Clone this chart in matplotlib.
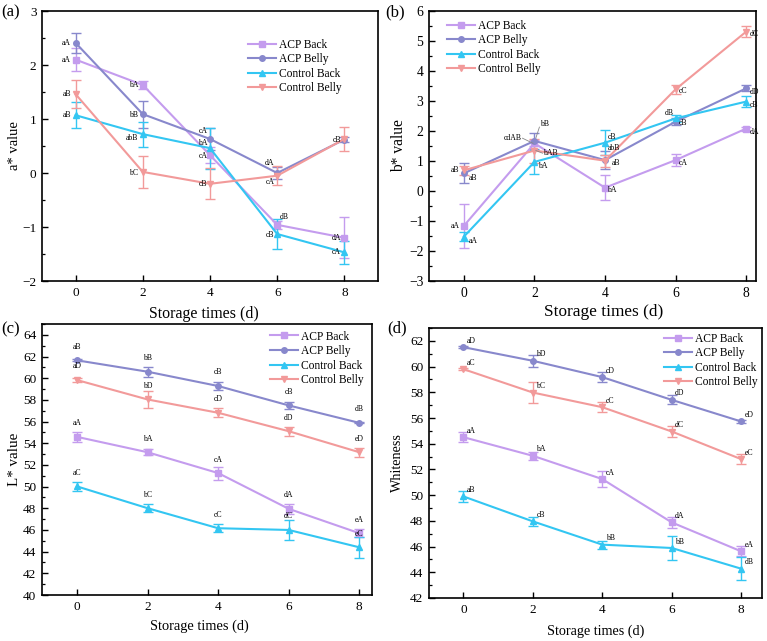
import matplotlib
matplotlib.use('Agg')
import matplotlib.pyplot as plt
from matplotlib.ticker import MultipleLocator

plt.rcParams['font.family'] = ['Liberation Serif', 'DejaVu Serif']

# ---------------- data ----------------
days = [0, 2, 4, 6, 8]
series_names = ['ACP Back', 'ACP Belly', 'Control Back', 'Control Belly']

# (a) a* value
a_acp_back = [2.10, 1.63, 0.33, -0.96, -1.20]
a_acp_back_err = [0.22, 0.08, 0.15, 0.08, 0.38]
a_acp_belly = [2.41, 1.09, 0.63, 0.00, 0.62]
a_acp_belly_err = [0.18, 0.25, 0.20, 0.12, 0.05]
a_ctrl_back = [1.07, 0.72, 0.46, -1.13, -1.47]
a_ctrl_back_err = [0.24, 0.23, 0.38, 0.27, 0.21]
a_ctrl_belly = [1.46, 0.02, -0.20, -0.05, 0.63]
a_ctrl_belly_err = [0.26, 0.30, 0.29, 0.18, 0.22]
a_letters = [['aA', 'bA', 'cA', 'dB', 'dA'],
             ['aA', 'bB', 'cA', 'dA', 'cB'],
             ['aB', 'abB', 'bA', 'cB', 'cA'],
             ['aB', 'bC', 'cB', 'cA', '']]

# (b) b* value
b_acp_back = [-1.16, 1.59, 0.11, 1.03, 2.08]
b_acp_back_err = [0.73, 0.10, 0.41, 0.20, 0.07]
b_acp_belly = [0.59, 1.67, 1.03, 2.31, 3.42]
b_acp_belly_err = [0.33, 0.27, 0.30, 0.12, 0.10]
b_ctrl_back = [-1.52, 0.97, 1.61, 2.42, 2.98]
b_ctrl_back_err = [0.14, 0.40, 0.42, 0.12, 0.19]
b_ctrl_belly = [0.69, 1.35, 1.01, 3.39, 5.31]
b_ctrl_belly_err = [0.15, 0.40, 0.20, 0.14, 0.18]
b_letters = [['aA', 'cdAB', 'bA', 'cA', 'dA'],
             ['aB', 'bB', 'aB', 'cB', 'dD'],
             ['aA', 'bA', 'cB', 'dB', 'cB'],
             ['aB', 'bAB', 'abB', 'cC', 'dC']]

# (c) L* value
c_acp_back = [54.59, 53.17, 51.25, 47.95, 45.70]
c_acp_back_err = [0.45, 0.30, 0.60, 0.45, 0.35]
c_acp_belly = [61.65, 60.60, 59.28, 57.49, 55.88]
c_acp_belly_err = [0.10, 0.45, 0.40, 0.30, 0.05]
c_ctrl_back = [50.02, 48.01, 46.16, 46.00, 44.40]
c_ctrl_back_err = [0.40, 0.35, 0.35, 0.90, 0.95]
c_ctrl_belly = [59.83, 58.04, 56.81, 55.11, 53.17]
c_ctrl_belly_err = [0.15, 0.75, 0.40, 0.40, 0.40]
c_letters = [['aA', 'bA', 'cA', 'dA', 'eA'],
             ['aB', 'bB', 'cB', 'cB', 'dB'],
             ['aC', 'bC', 'cC', 'dC', 'eC'],
             ['aD', 'bD', 'cD', 'dD', 'eD']]

# (d) Whiteness
d_acp_back = [54.51, 53.06, 51.25, 47.88, 45.63]
d_acp_back_err = [0.40, 0.30, 0.60, 0.45, 0.40]
d_acp_belly = [61.51, 60.45, 59.18, 57.41, 55.73]
d_acp_belly_err = [0.10, 0.45, 0.40, 0.35, 0.10]
d_ctrl_back = [49.90, 47.96, 46.15, 45.89, 44.28]
d_ctrl_back_err = [0.40, 0.35, 0.30, 0.90, 0.90]
d_ctrl_belly = [59.80, 57.98, 56.84, 54.95, 52.80]
d_ctrl_belly_err = [0.10, 0.80, 0.40, 0.40, 0.40]
d_letters = [['aA', 'bA', 'cA', 'dA', 'eA'],
             ['aD', 'bD', 'cD', 'dD', 'eD'],
             ['aB', 'cB', 'bB', 'bB', 'dB'],
             ['aC', 'bC', 'cC', 'dC', 'eC']]

# ---------------- style ----------------
colors = ['#C49CEE', '#8888CC', '#33C6F2', '#F29A9A']
markers = ['s', 'o', '^', 'v']

# label offsets (dx, dy) in data units and horizontal alignment
a_off = [[(-0.13, 0, 'right'), (-0.14, 0, 'right'), (-0.07, -0.01, 'right'), (0.07, 0.14, 'left'), (-0.10, 0, 'right')],
         [(-0.13, 0, 'right'), (-0.14, -0.02, 'right'), (-0.07, 0.14, 'right'), (-0.08, 0.19, 'right'), (-0.10, 0, 'right')],
         [(-0.13, 0, 'right'), (-0.14, -0.07, 'right'), (-0.07, 0.09, 'right'), (-0.08, -0.01, 'right'), (-0.10, 0, 'right')],
         [(-0.13, 0, 'right'), (-0.14, -0.02, 'right'), (-0.07, 0, 'right'), (-0.08, -0.12, 'right'), (0, 0, 'right')]]
b_off = [[(-0.13, 0, 'right'), (-0.36, 0.17, 'right'), (0.07, -0.08, 'left'), (0.10, -0.09, 'left'), (0.10, -0.10, 'left')],
         [(0.13, -0.15, 'left'), (0.16, 0.56, 'left'), (0.20, -0.09, 'left'), (0.10, -0.03, 'left'), (0.10, -0.11, 'left')],
         [(0.13, -0.15, 'left'), (0.10, -0.13, 'left'), (0.07, 0.20, 'left'), (-0.05, 0.17, 'right'), (0.10, -0.11, 'left')],
         [(-0.13, 0, 'right'), (0.25, -0.09, 'left'), (0.07, 0.41, 'left'), (0.10, -0.05, 'left'), (0.10, -0.09, 'left')]]
# leader lines for (b): (series, index)
b_leaders = [(0, 1), (1, 1), (3, 1)]

W, H = 767, 641
fig = plt.figure(figsize=(W / 100, H / 100), dpi=100)


def add_ax(l, t, r, b):
    return fig.add_axes([l / W, 1 - b / H, (r - l) / W, (b - t) / H])


def draw_panel(ax, vals, errs, xlim, ylim, major, minor, tick_fs):
    lines = []
    for i in range(4):
        ax.errorbar(days, vals[i], yerr=errs[i], fmt='none', ecolor=colors[i],
                    elinewidth=1.0, capsize=3.5, capthick=1.0, zorder=2)
        ln, = ax.plot(days, vals[i], color=colors[i], marker=markers[i],
                      markersize=4.0, linewidth=1.5, label=series_names[i], zorder=3)
        lines.append(ln)
    ax.set_xlim(*xlim)
    ax.set_ylim(*ylim)
    ax.set_xticks(days)
    ax.yaxis.set_major_locator(MultipleLocator(major))
    ax.yaxis.set_minor_locator(MultipleLocator(minor))
    ax.tick_params(axis='both', which='major', direction='in', length=4, width=1.0,
                   labelsize=tick_fs, pad=4)
    ax.tick_params(axis='y', which='minor', direction='in', length=2.5, width=0.9)
    for s in ax.spines.values():
        s.set_linewidth(1.2)
    return lines


def legend(ax, lines, x, y):
    ax.legend(handles=lines, loc='upper left', bbox_to_anchor=(x, y), frameon=False,
              fontsize=8.3, borderpad=0, borderaxespad=0, labelspacing=0.22,
              handlelength=2.4, handletextpad=0.3, numpoints=1)


ann_fs = 5.6

# (a)
ax_a = add_ax(42, 11, 378, 281)
vals = [a_acp_back, a_acp_belly, a_ctrl_back, a_ctrl_belly]
errs = [a_acp_back_err, a_acp_belly_err, a_ctrl_back_err, a_ctrl_belly_err]
la = draw_panel(ax_a, vals, errs, (-1, 9), (-2, 3), 1, 0.5, 9.5)
for i in range(4):
    for j, d in enumerate(days):
        t = a_letters[i][j]
        if t:
            dx, dy, ha = a_off[i][j]
            ax_a.text(d + dx, vals[i][j] + dy, t, ha=ha, va='center', fontsize=ann_fs)
legend(ax_a, la, 0.613, 0.897)
ax_a.set_xlabel('Storage times (d)', fontsize=11.4)
ax_a.xaxis.set_label_coords((204 - 42) / 336, -0.093)
ax_a.set_ylabel('a* value', fontsize=10.5)
ax_a.yaxis.set_label_coords(-0.063, 0.5)

# (b)
ax_b = add_ax(429, 11, 756, 281)
vals = [b_acp_back, b_acp_belly, b_ctrl_back, b_ctrl_belly]
errs = [b_acp_back_err, b_acp_belly_err, b_ctrl_back_err, b_ctrl_belly_err]
lb = draw_panel(ax_b, vals, errs, (-0.99, 8.28), (-3, 6), 1, 0.5, 9.8)
for i in range(4):
    for j, d in enumerate(days):
        t = b_letters[i][j]
        dx, dy, ha = b_off[i][j]
        tx, ty = d + dx, vals[i][j] + dy
        ax_b.text(tx, ty, t, ha=ha, va='center', fontsize=ann_fs)
        if (i, j) in b_leaders:
            ex = tx + (0.02 if ha == 'right' else -0.02)
            ax_b.plot([ex, d + (0.04 if dx > 0 else -0.04)],
                      [ty + (-0.1 if dy > 0.3 else 0), vals[i][j] + (0.1 if dy > 0.3 else 0)],
                      color='#888888', linewidth=0.6, zorder=4)
legend(ax_b, lb, 0.055, 0.968)
ax_b.set_xlabel('Storage times (d)', fontsize=12.4)
ax_b.xaxis.set_label_coords((604 - 429) / 327, -0.085)
ax_b.set_ylabel('b* value', fontsize=11.2)
ax_b.yaxis.set_label_coords(-0.067, 0.5)

# (c)
ax_c = add_ax(42, 324, 372, 595)
vals = [c_acp_back, c_acp_belly, c_ctrl_back, c_ctrl_belly]
errs = [c_acp_back_err, c_acp_belly_err, c_ctrl_back_err, c_ctrl_belly_err]
lc = draw_panel(ax_c, vals, errs, (-0.99, 8.36), (40, 65), 2, 1, 9.5)
for i in range(4):
    for j, d in enumerate(days):
        ax_c.text(d, vals[i][j] + 1.25, c_letters[i][j], ha='center', va='center', fontsize=ann_fs)
legend(ax_c, lc, 0.691, 0.976)
ax_c.set_xlabel('Storage times (d)', fontsize=10.4)
ax_c.xaxis.set_label_coords((199 - 42) / 330, -0.089)
ax_c.set_ylabel('L* value', fontsize=10.8)
ax_c.yaxis.set_label_coords(-0.064, 0.5)

# (d)
ax_d = add_ax(429, 328, 762, 598)
vals = [d_acp_back, d_acp_belly, d_ctrl_back, d_ctrl_belly]
errs = [d_acp_back_err, d_acp_belly_err, d_ctrl_back_err, d_ctrl_belly_err]
ld = draw_panel(ax_d, vals, errs, (-0.99, 8.6), (42, 63), 2, 1, 9.5)
for i in range(4):
    for j, d in enumerate(days):
        ax_d.text(d + 0.1, vals[i][j] + 0.5, d_letters[i][j], ha='left', va='center', fontsize=ann_fs)
legend(ax_d, ld, 0.706, 0.983)
ax_d.set_xlabel('Storage times (d)', fontsize=10.2)
ax_d.xaxis.set_label_coords(0.5, -0.098)
ax_d.set_ylabel('Whiteness', fontsize=10.2)
ax_d.yaxis.set_label_coords(-0.075, 0.5)

# panel labels
for txt, x, y in [('(a)', 11, 12), ('(b)', 395, 12), ('(c)', 11, 329), ('(d)', 397, 328)]:
    fig.text(x / W, 1 - y / H, txt, ha='center', va='center', fontsize=12)

fig.savefig('out.png', dpi=100)
